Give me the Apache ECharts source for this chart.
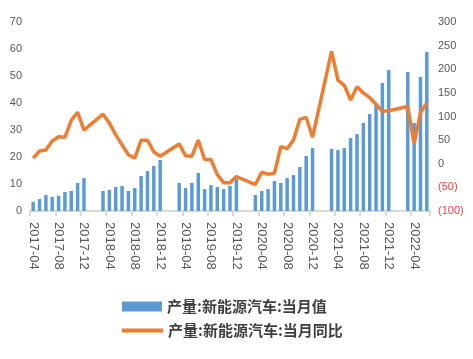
<!DOCTYPE html>
<html>
<head>
<meta charset="utf-8">
<script src="https://cdn.jsdelivr.net/npm/echarts@6/dist/echarts.min.js"></script>
<style>
html,body{margin:0;padding:0;background:#fff;}
#chart{width:473px;height:359px;}
</style>
</head>
<body>
<div id="chart"></div>
<script>
var months = [
  '2017-04','2017-05','2017-06','2017-07','2017-08','2017-09','2017-10','2017-11','2017-12',
  '2018-01','2018-02','2018-03','2018-04','2018-05','2018-06','2018-07','2018-08','2018-09','2018-10','2018-11','2018-12',
  '2019-01','2019-02','2019-03','2019-04','2019-05','2019-06','2019-07','2019-08','2019-09','2019-10','2019-11','2019-12',
  '2020-01','2020-02','2020-03','2020-04','2020-05','2020-06','2020-07','2020-08','2020-09','2020-10','2020-11','2020-12',
  '2021-01','2021-02','2021-03','2021-04','2021-05','2021-06','2021-07','2021-08','2021-09','2021-10','2021-11','2021-12',
  '2022-01','2022-02','2022-03','2022-04','2022-05','2022-06'
];
var monthlyOutput = [
  3.4, 4.4, 5.9, 5.2, 5.7, 7.0, 7.4, 10.4, 12.2,
  null, null, 7.4, 7.8, 8.9, 9.3, 7.4, 8.5, 13.0, 14.8, 16.7, 18.9,
  null, null, 10.4, 8.5, 10.4, 14.1, 8.1, 9.6, 8.9, 8.1, 9.3, 11.9,
  null, null, 5.9, 7.4, 8.1, 11.1, 10.4, 12.2, 13.3, 16.3, 20.4, 23.3,
  null, null, 23.0, 22.6, 23.3, 27.0, 28.5, 32.6, 35.9, 39.4, 47.4, 52.2,
  null, null, 51.5, 32.6, 49.6, 58.9
];
var monthlyYoY = [
  12, 27, 29, 48, 57, 56, 92, 109, 71,
  null, null, 105, 86, 61, 40, 19, 12, 50, 50, 25, 16,
  null, null, 42, 17, 16, 50, 9, 9, -23, -40, -40, -27,
  null, null, -44, -18, -22, -20, 36, 32, 50, 94, 98, 56,
  null, null, 238, 177, 166, 135, 163, 150, 140, 126, 111, 112,
  null, null, 121, 42, 108, 129
];
var leftTicks = {min: 0, max: 70, interval: 10};
var rightTicks = {min: -100, max: 300, interval: 50};
var seriesNames = ['产量:新能源汽车:当月值', '产量:新能源汽车:当月同比'];

var chart = echarts.init(document.getElementById('chart'));
var legendText = {fontSize: 15, fontWeight: 'bold', color: '#404040', fontFamily: '"Noto Sans CJK SC", sans-serif'};
chart.setOption({
  animation: false,
  textStyle: {fontFamily: '"Liberation Sans", Arial, sans-serif'},
  grid: {left: 30, right: 43, top: 22, bottom: 148, containLabel: false},
  legend: [
    {data: [{name: seriesNames[0], icon: 'rect'}], left: 122, top: 299, orient: 'vertical', padding: 0,
     itemWidth: 40, itemHeight: 10, itemGap: 6, textStyle: legendText},
    {data: [{name: seriesNames[1], icon: 'rect'}], left: 122, top: 323, orient: 'vertical', padding: 0,
     itemWidth: 41, itemHeight: 4, itemGap: 6, textStyle: legendText}
  ],
  xAxis: {
    type: 'category',
    data: months,
    boundaryGap: true,
    axisLine: {lineStyle: {color: '#d9d9d9', width: 2}},
    axisTick: {show: true, interval: 3, length: 5, lineStyle: {color: '#d9d9d9', width: 2}},
    axisLabel: {interval: 3, rotate: -90, color: '#595959', fontSize: 13, margin: 11}
  },
  yAxis: [
    {type: 'value', min: leftTicks.min, max: leftTicks.max, interval: leftTicks.interval,
     axisLine: {show: false}, axisTick: {show: false}, splitLine: {show: false},
     axisLabel: {color: '#595959', fontSize: 11, margin: 8}},
    {type: 'value', min: rightTicks.min, max: rightTicks.max, interval: rightTicks.interval,
     axisLine: {show: false}, axisTick: {show: false}, splitLine: {show: false},
     axisLabel: {fontSize: 11, margin: 8, color: '#595959',
       formatter: function (v) { return v < 0 ? '{neg|(' + (-v) + ')}' : String(v); },
       rich: {neg: {color: '#ff3b3b', fontSize: 11}}}}
  ],
  series: [
    {name: seriesNames[0], type: 'bar', yAxisIndex: 0, data: monthlyOutput,
     barWidth: '55%', itemStyle: {color: '#5b9bd5'}},
    {name: seriesNames[1], type: 'line', yAxisIndex: 1, data: monthlyYoY,
     connectNulls: true, symbol: 'none', lineStyle: {color: '#ed7d31', width: 3.5},
     itemStyle: {color: '#ed7d31'}, z: 3}
  ]
});
</script>
</body>
</html>
